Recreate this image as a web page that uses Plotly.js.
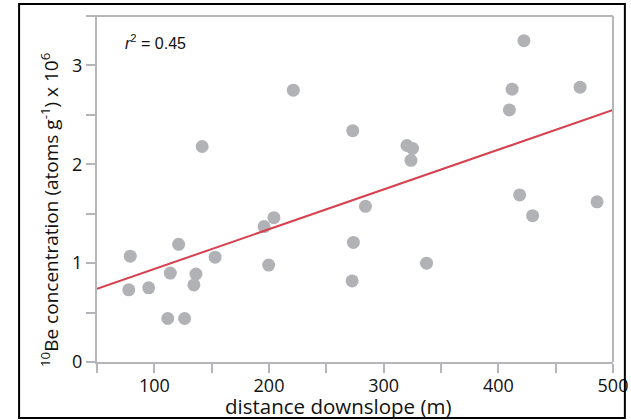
<!DOCTYPE html>
<html>
<head>
<meta charset="utf-8">
<script src="https://cdn.plot.ly/plotly-3.0.1.min.js"></script>
<style>
html,body{margin:0;padding:0;background:#fff;}
#chart{width:631px;height:420px;}
</style>
</head>
<body>
<div id="chart"></div>
<script>
// distance downslope (m)
const distance = [79, 77.7, 95.1, 111.7, 126.4, 113.9, 121.2, 136.3, 134.5, 141.7,
  153, 195.7, 204.3, 199.7, 221.2, 273, 273.6, 272.5, 284.1, 320.3,
  325.2, 323.8, 337.4, 409.6, 412, 422.3, 418.6, 429.9, 471.3, 486.1];
// 10Be concentration (x 10^6 atoms/g)
const concentration = [1.07, 0.73, 0.75, 0.44, 0.44, 0.90, 1.19, 0.89, 0.78, 2.18,
  1.06, 1.37, 1.46, 0.98, 2.75, 2.34, 1.21, 0.82, 1.575, 2.19,
  2.16, 2.04, 1.00, 2.55, 2.76, 3.25, 1.69, 1.48, 2.78, 1.62];
// regression line end points
const fitX = [50, 500];
const fitY = [0.74, 2.55];
const xTickVals = [100, 200, 300, 400, 500];
const yTickVals = [0, 1, 2, 3];
const xTitle = 'distance downslope (m)';
const yTitle = '<sup>10</sup>Be concentration (atoms g<sup>-1</sup>) x 10<sup>6</sup>';
const rText = '<i>r</i><sup>2</sup> = 0.45';

const gray = '#b5b6b9';
const font = 'Open Sans, DejaVu Sans, sans-serif';
const ink = '#111';

const traces = [
  {x: distance, y: concentration, type: 'scatter', mode: 'markers',
   marker: {color: '#b1b2b5', size: 13}, hoverinfo: 'none', cliponaxis: false},
  {x: fitX, y: fitY, type: 'scatter', mode: 'lines',
   line: {color: '#d7404e', width: 2}, hoverinfo: 'none'}
];

const layout = {
  width: 631, height: 420,
  margin: {l: 97, r: 18, t: 16, b: 58},
  paper_bgcolor: '#fff', plot_bgcolor: '#fff',
  showlegend: false,
  font: {family: font, size: 18, color: ink},
  xaxis: {
    range: [50, 500], tickvals: xTickVals, ticktext: xTickVals.map(String),
    ticks: 'outside', ticklen: 9, tickwidth: 2, tickcolor: gray, ticklabelstandoff: -3,
    minor: {dtick: 50, tick0: 0, ticks: 'outside', ticklen: 9, tickwidth: 2, tickcolor: gray},
    showline: true, linecolor: gray, linewidth: 2, showgrid: false, zeroline: false,
    tickfont: {family: font, size: 18, color: ink}
  },
  yaxis: {
    range: [0, 3.5], tickvals: yTickVals, ticktext: yTickVals.map(String),
    ticks: 'outside', ticklen: 9, tickwidth: 2, tickcolor: gray,
    minor: {dtick: 0.5, tick0: 0, ticks: 'outside', ticklen: 9, tickwidth: 2, tickcolor: gray},
    showline: true, linecolor: gray, linewidth: 2, showgrid: false, zeroline: false,
    tickfont: {family: font, size: 18, color: ink}
  },
  annotations: [
    {xref: 'paper', yref: 'paper', x: 0.05, y: 0.925, xanchor: 'left', yanchor: 'middle',
     text: rText, showarrow: false, font: {family: 'Liberation Sans, Arial, sans-serif', size: 16, color: ink}},
    {xref: 'paper', yref: 'paper', x: (338 - 97) / 516, y: (362 - 406) / 346,
     xanchor: 'center', yanchor: 'middle', text: xTitle, showarrow: false,
     font: {family: font, size: 20.5, color: ink}},
    {xref: 'paper', yref: 'paper', x: (50 - 97) / 516, y: (362 - 210) / 346,
     xanchor: 'center', yanchor: 'middle', text: yTitle, showarrow: false, textangle: -90,
     font: {family: font, size: 19, color: ink}}
  ],
  shapes: [
    {type: 'line', xref: 'paper', yref: 'paper', x0: -0.017, x1: 1, y0: 1, y1: 1,
     line: {color: gray, width: 2}},
    {type: 'line', xref: 'paper', yref: 'paper', x0: 1, x1: 1, y0: 0, y1: 1,
     line: {color: gray, width: 2}},
    {type: 'rect', xref: 'paper', yref: 'paper', x0: -0.151, x1: 1.023, y0: -0.162, y1: 1.035,
     line: {color: '#000', width: 2}, fillcolor: 'rgba(0,0,0,0)'}
  ]
};

Plotly.newPlot('chart', traces, layout, {displayModeBar: false, staticPlot: true});
</script>
</body>
</html>
